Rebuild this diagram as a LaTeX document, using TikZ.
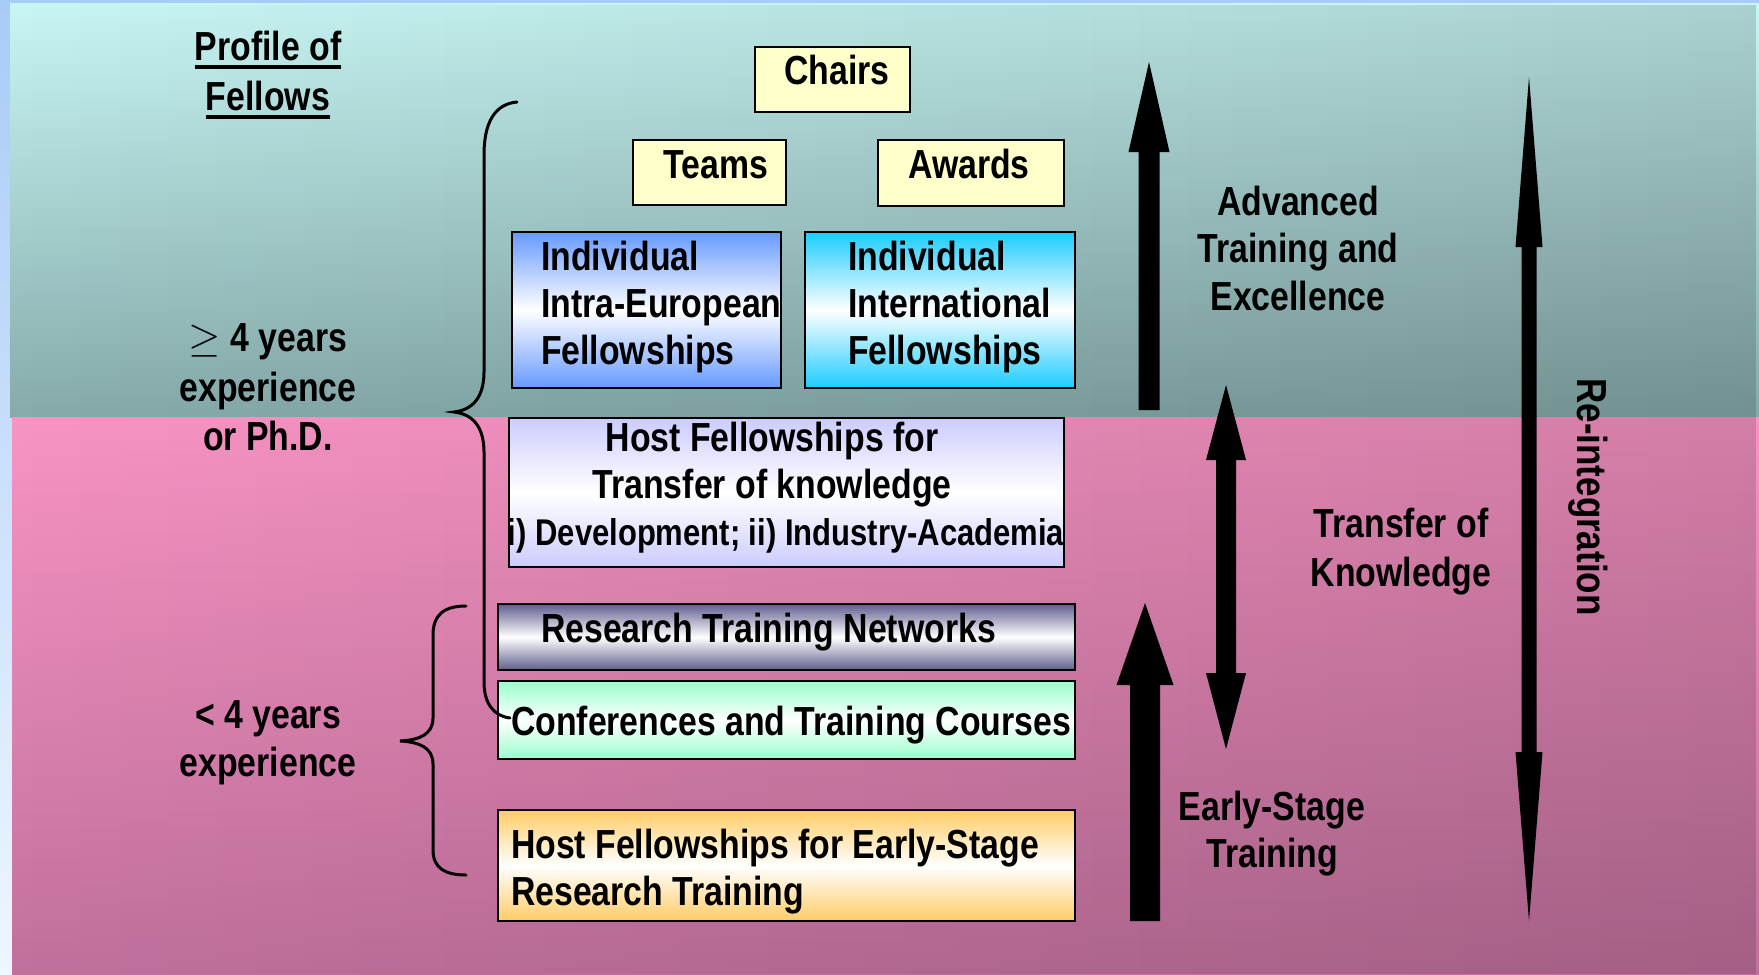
\documentclass[tikz,border=0pt]{standalone}
\usepackage{fontspec}
\setmainfont{Liberation Sans}[FakeStretch=0.833]
\usetikzlibrary{positioning, fadings}

\definecolor{bgblue}{HTML}{A9CBF7}
\definecolor{bgpale}{HTML}{EEF6FF}
\definecolor{tealtop}{HTML}{C8F6F4}
\definecolor{tealbot}{HTML}{86AAAA}
\definecolor{pinktop}{HTML}{F894C4}
\definecolor{pinkbot}{HTML}{C0709C}
\definecolor{chairyellow}{HTML}{FFFFCC}
\definecolor{ieblue}{HTML}{6699FF}
\definecolor{iicyan}{HTML}{1CCCFF}
\definecolor{toklilac}{HTML}{CCCCFF}
\definecolor{rtnslate}{HTML}{5E5E8E}
\definecolor{confmint}{HTML}{99FFCC}
\definecolor{estorange}{HTML}{FFCC66}

\tikzfading[name=darkright, left color=transparent!100, right color=transparent!0]

\tikzset{
	box/.style={
		rectangle,
		draw=black,
		line width=1.2pt,
		anchor=north west,
		inner sep=0pt,
		outer sep=0pt
	},
	shadebox/.style={
		box,
		top color=#1,
		bottom color=#1,
		middle color=white
	},
	boxtext/.style={
		font=\bfseries\fontsize{20.3}{23.5}\selectfont,
		inner sep=0pt,
		outer sep=0pt
	},
	brace/.style={line width=1.5pt, line cap=round}
}
\newcommand{\upblock}[6]{% x, tip, head base, tail, half shaft, half head
	\fill (#1-#5,#4) -- (#1-#5,#3) -- (#1-#6,#3) -- (#1,#2) -- (#1+#6,#3) -- (#1+#5,#3) -- (#1+#5,#4) -- cycle;
}
\newcommand{\bothblock}[7]{% x, top tip, top base, bottom base, bottom tip, half shaft, half head
	\fill (#1,#2) -- (#1+#7,#3) -- (#1+#6,#3) -- (#1+#6,#4) -- (#1+#7,#4) -- (#1,#5) -- (#1-#7,#4) -- (#1-#6,#4) -- (#1-#6,#3) -- (#1-#7,#3) -- cycle;
}
\newcommand{\undertext}[1]{\setbox0=\hbox{#1}\rlap{\rule[-4.5pt]{\wd0}{2pt}}\box0}

\begin{document}
\begin{tikzpicture}[x=0.5pt, y=-0.5pt]
	\useasboundingbox (0,0) rectangle (1759,974);
	\fill[top color=bgblue, bottom color=bgpale] (0,0) rectangle (1759,974);
	\fill[top color=tealtop, bottom color=tealbot] (10,4) rectangle (1759,417);
	\fill[top color=pinktop, bottom color=pinkbot] (12,417) rectangle (1759,974);
	\fill[black, opacity=0.15, path fading=darkright] (10,4) rectangle (1759,974);

	\node[box, fill=chairyellow, minimum width=77.5pt, minimum height=32.5pt] (chairs) at (755,47) {};
	\node[box, fill=chairyellow, minimum width=76.5pt, minimum height=32.5pt] (teams) at (633,140) {};
	\node[box, fill=chairyellow, minimum width=93pt, minimum height=33pt] (awards) at (878,140) {};
	\node[shadebox=ieblue, minimum width=134.5pt, minimum height=78pt] (iief) at (512,232) {};
	\node[shadebox=iicyan, minimum width=135pt, minimum height=78pt] (iif) at (805,232) {};
	\node[shadebox=toklilac, minimum width=277.5pt, minimum height=74.5pt] (tok) at (509,418) {};
	\node[shadebox=rtnslate, minimum width=288.5pt, minimum height=33pt] (rtn) at (498,604) {};
	\node[shadebox=confmint, minimum width=288.5pt, minimum height=39pt] (conf) at (498,681) {};
	\node[shadebox=estorange, minimum width=288.5pt, minimum height=55.5pt] (est) at (498,810) {};

	\node[boxtext, anchor=base] (chairs text) at (837,85) {Chairs};
	\node[boxtext, anchor=base] (teams text) at (716,178) {Teams};
	\node[boxtext, anchor=base] (awards text) at (969,178) {Awards};
	\node[boxtext, anchor=north west, align=left] (iief text) at (541,241) {Individual\\Intra-European\\Fellowships};
	\node[boxtext, anchor=north west, align=left] (iif text) at (848,241) {Individual\\International\\Fellowships};
	\node[boxtext, anchor=north, align=center] (tok text) at (786,422)
		{Host Fellowships for\kern14pt\\Transfer of knowledge\kern14pt\\{\fontsize{18.6}{23.5}\selectfont i) Development; ii) Industry-Academia}};
	\node[boxtext, anchor=base west] (rtn text) at (541,642) {Research Training Networks};
	\node[boxtext, anchor=base west] (conf text) at (511,735) {Conferences and Training Courses};
	\node[boxtext, anchor=north west, align=left] (est text) at (511,829) {Host Fellowships for Early-Stage\\Research Training};

	% profile column
	\node[boxtext, anchor=north, align=center, font=\bfseries\fontsize{20.3}{25}\selectfont] (profile) at (268,31)
		{\undertext{Profile of}\\\undertext{Fellows}};
	\node[boxtext, anchor=north, align=center, font=\bfseries\fontsize{20.3}{24.75}\selectfont] (senior) at (268,324)
		{$\geq$ 4 years\\experience\\or Ph.D.};
	\node[boxtext, anchor=north, align=center, font=\bfseries\fontsize{20.3}{24}\selectfont] (junior) at (268,701)
		{< 4 years\\experience};

	\draw[brace] (517,102) .. controls (495,104) and (484,122) .. (484,155) -- (484,372)
		.. controls (484,398) and (472,410) .. (454,412) .. controls (472,414) and (484,426) .. (484,452)
		-- (484,682) .. controls (484,704) and (494,716) .. (510,718);
	\draw[brace] (466,606) .. controls (445,606) and (433,614) .. (433,635) -- (433,718)
		.. controls (433,734) and (420,740) .. (400,741) .. controls (420,742) and (433,748) .. (433,764)
		-- (433,850) .. controls (433,868) and (445,875) .. (466,875);

	\upblock{1149}{62}{152}{410}{10.5}{20.5}
	\upblock{1145}{603}{685}{921}{15}{28.5}
	\bothblock{1226}{385}{460}{673}{749}{10}{20}
	\bothblock{1529}{77}{247}{752}{921}{7.5}{13.5}

	\node[boxtext, anchor=north, align=center, font=\bfseries\fontsize{20.3}{23.75}\selectfont] (advanced) at (1298,186)
		{Advanced\\Training and\\Excellence};
	\node[boxtext, anchor=north, align=center, font=\bfseries\fontsize{20.3}{24.5}\selectfont] (transfer) at (1401,508)
		{Transfer of\\Knowledge};
	\node[boxtext, anchor=north, align=center] (early) at (1272,791) {Early-Stage\\Training};
	\node[boxtext, rotate=-90, font=\bfseries\fontsize{21}{24}\selectfont] (reint) at (1588,497) {Re-integration};
\end{tikzpicture}
\end{document}
